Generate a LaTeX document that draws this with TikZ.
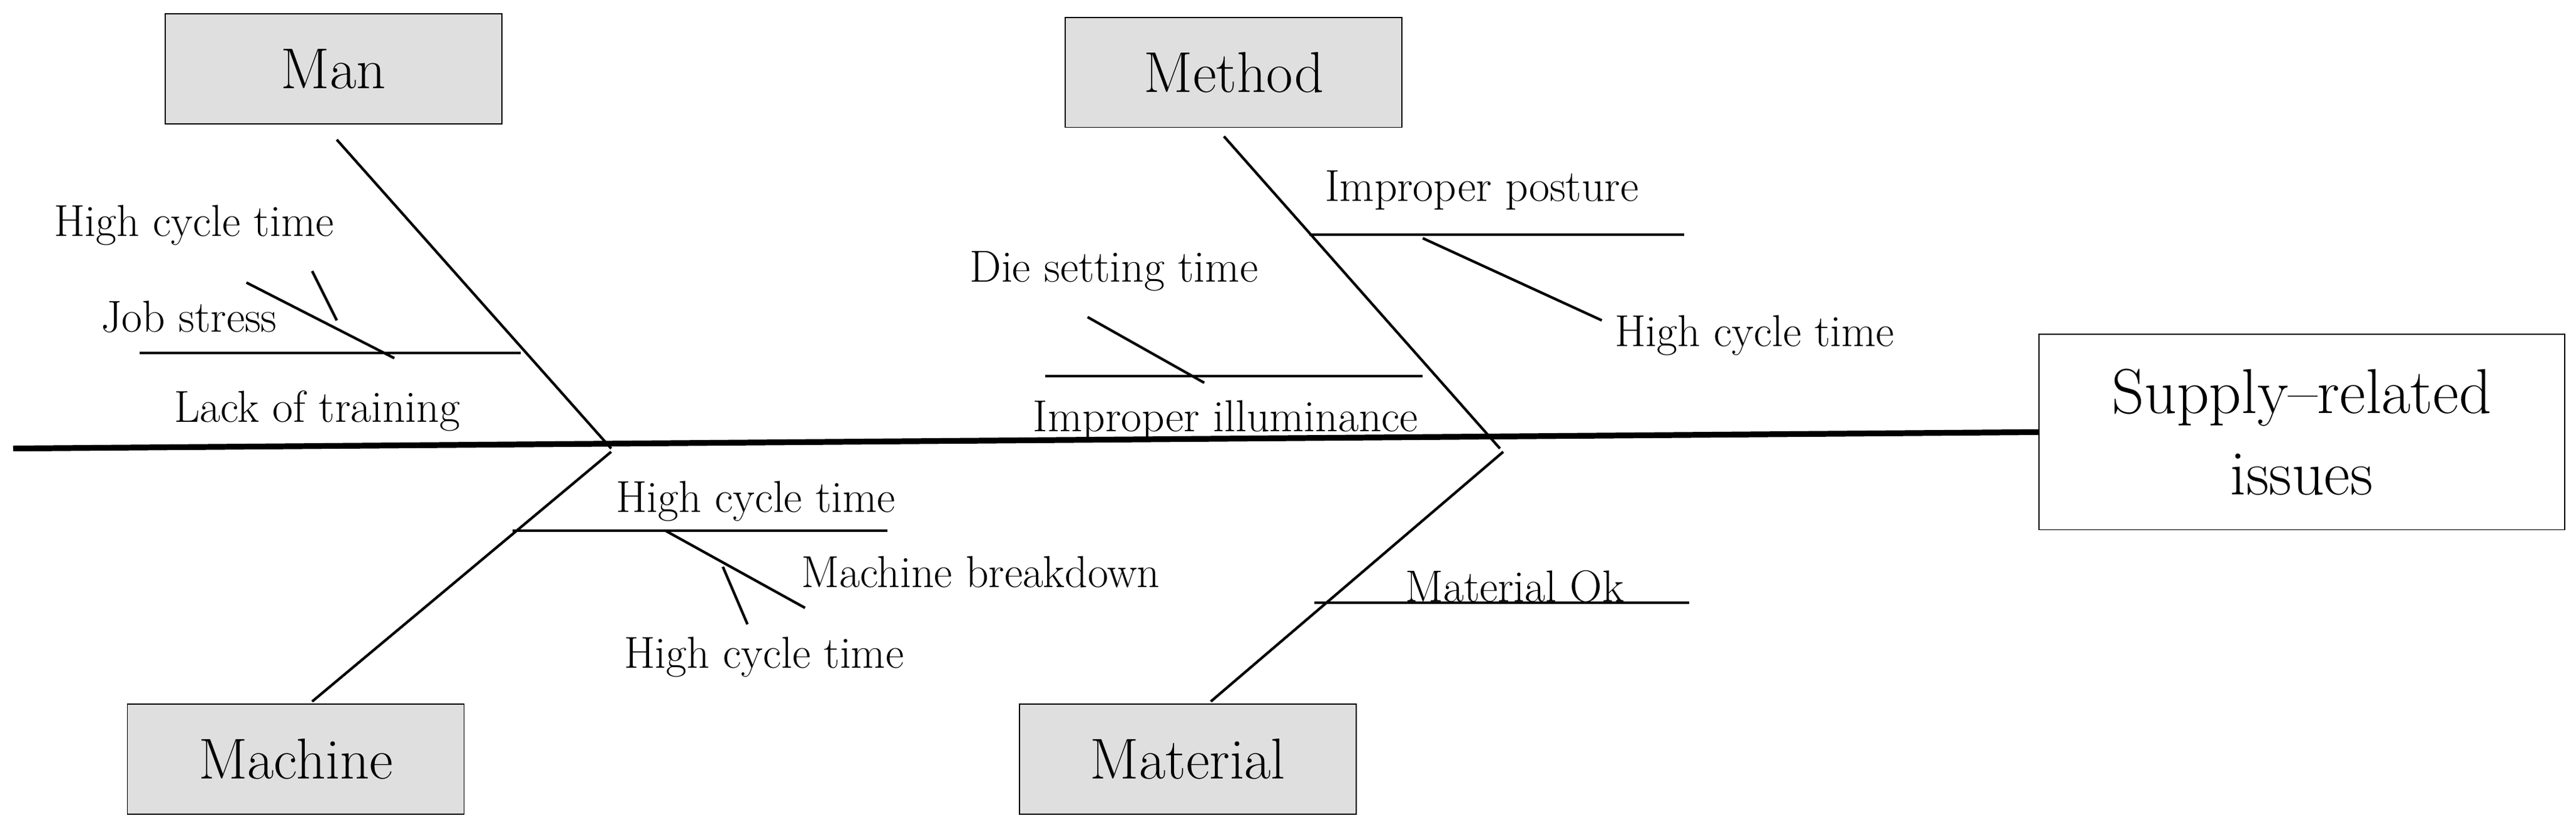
\documentclass[tikz,border=0pt]{standalone}
\usetikzlibrary{positioning}
\begin{document}
\begin{tikzpicture}[x=0.02cm,y=-0.02cm,
    cat/.style={draw,fill=gray!25,minimum width=4.1cm,minimum height=1.34cm,font=\fontsize{20}{24}\selectfont},
    lbl/.style={font=\fontsize{15.5}{18}\selectfont,inner sep=1pt},
    bone/.style={line width=0.9pt}]
  \useasboundingbox (0,0) rectangle (1568,507);
  % head and spine
  \node[draw,minimum width=6.4cm,minimum height=2.38cm,align=center,font=\fontsize{22}{28}\selectfont]
    (head) at (1401,263) {Supply--related\\issues};
  \coordinate (tail) at (8,273);
  \draw[line width=2pt] (tail) -- (head.west);
  % category boxes
  \node[cat] (man) at (203,42) {Man};
  \node[cat] (method) at (751,44) {Method};
  \node[cat] (machine) at (180,462) {Machine};
  \node[cat] (material) at (723,462) {Material};
  \coordinate (j1) at (372,273);
  \coordinate (j2) at (913,273);
  \draw[bone] (205,85) -- (j1);
  \draw[bone] (745,83) -- (j2);
  \draw[bone] (190,427) -- (372,275);
  \draw[bone] (737,427) -- (915,275);
  % Man
  \coordinate (m1) at (85,215);
  \coordinate (m2) at (317,215);
  \draw[bone] (m1) -- (m2);
  \draw[bone] (150,172) -- (240,218);
  \draw[bone] (190,165) -- (205,195);
  \node[lbl] (train) at (193,250) {Lack of training};
  \node[lbl] (stress) at (115,193) {Job stress};
  \node[lbl] (mct) at (118,137) {High cycle time};
  % Method
  \draw[bone] (797,143) -- (1025,143);
  \draw[bone] (866,145) -- (975,195);
  \draw[bone] (636,229) -- (866,229);
  \draw[bone] (662,193) -- (733,233);
  \node[lbl] (posture) at (902,116) {Improper posture};
  \node[lbl] (mect) at (1068,204) {High cycle time};
  \node[lbl] (die) at (678,165) {Die setting time};
  \node[lbl] (illum) at (746,256) {Improper illuminance};
  % Machine
  \draw[bone] (312,323) -- (540,323);
  \draw[bone] (405,323) -- (490,370);
  \draw[bone] (440,345) -- (455,380);
  \node[lbl] (mact) at (460,305) {High cycle time};
  \node[lbl] (brk) at (597,348) {Machine breakdown};
  \node[lbl] (mact2) at (465,400) {High cycle time};
  % Material
  \draw[bone] (800,367) -- (1028,367);
  \node[lbl] (ok) at (922,357) {Material Ok};
\end{tikzpicture}
\end{document}
